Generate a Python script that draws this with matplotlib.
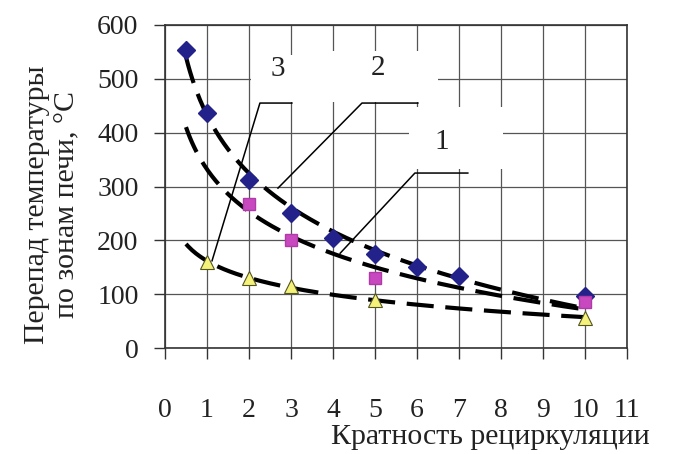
import numpy as np
import matplotlib
matplotlib.use("Agg")
import matplotlib.pyplot as plt
from matplotlib.patches import Rectangle

# ---- data ----
x1 = [0.5, 1, 2, 3, 4, 5, 6, 7, 10]
y1 = [553, 437, 313, 250, 205, 175, 150, 133, 97]
x2 = [2, 3, 5, 10]
y2 = [268, 200, 130, 85]
x3 = [1, 2, 3, 5, 10]
y3 = [160, 130, 115, 90, 55]
xticks = list(range(0, 12))
yticks = list(range(0, 700, 100))
curve_labels = ["3", "2", "1"]
xlabel = "Кратность рециркуляции"
ylabel = "Перепад температуры\nпо зонам печи, °С"

plt.rcParams['font.family'] = ['Liberation Serif', 'DejaVu Serif']

fig = plt.figure(figsize=(6.78, 4.54), dpi=100)
ax = fig.add_axes([165/678, 1-348/454, (627-165)/678, (348-25)/454])

ax.set_xlim(0, 11)
ax.set_ylim(0, 600)
ax.set_xticks(xticks)
ax.set_yticks(yticks)
ax.grid(True, color='#555555', lw=0.9)
ax.set_axisbelow(True)
for s in ax.spines.values():
    s.set_color('#333333')
    s.set_linewidth(1.2)
ax.tick_params(axis='both', direction='out', length=8, width=1.0, color='#333333',
               labelsize=20, labelcolor='#222222')
ax.tick_params(axis='y', pad=11)
ax.tick_params(axis='x', pad=28)

# white label boxes that hide the grid
for (bx, by, bw, bh) in [(2.05, 457, 1.45, 88), (3.5, 457, 3.0, 95), (5.8, 332, 2.25, 116)]:
    ax.add_patch(Rectangle((bx, by), bw, bh, facecolor='white', edgecolor='none', zorder=1.5))

# logarithmic trend lines
xt = np.linspace(0.5, 10, 200)
for xs, ys in [(x1, y1), (x2, y2), (x3, y3)]:
    b, a = np.polyfit(np.log(xs), ys, 1)
    ax.plot(xt, a + b*np.log(xt), color='black', lw=3.0, dashes=(6.5, 2.8), zorder=3)

ax.plot(x1, y1, ls='none', marker='D', ms=9, color='#22228a', mec='#22228a', zorder=4)
ax.plot(x2, y2, ls='none', marker='s', ms=9, color='#c848c0', mec='#b03aa8', zorder=4)
ax.plot(x3, y3, ls='none', marker='^', ms=10, color='#f4f27a', mec='#555522', mew=0.8, zorder=4)

# leader lines and curve numbers
lead_kw = dict(color='black', lw=1.1, zorder=3.5)
ax.plot([3.02, 2.26, 1.12], [455, 455, 162], **lead_kw)
ax.plot([6.02, 4.69, 2.69], [455, 455, 297], **lead_kw)
ax.plot([7.21, 5.95, 4.17], [325, 325, 176], **lead_kw)
for lab, (tx, ty) in zip(curve_labels, [(2.69, 518), (5.07, 520), (6.6, 383)]):
    ax.text(tx, ty, lab, fontsize=21, ha='center', va='center', color='#222222', zorder=5)

fig.text(490/678, 1-437/454, xlabel, fontsize=21.5, ha='center', va='center', color='#222222')
fig.text(52/678, 1-205/454, ylabel, fontsize=21.5, ha='center', va='center', rotation=90,
         multialignment='center', color='#222222', linespacing=1.2)

fig.savefig("out.png", dpi=100)
